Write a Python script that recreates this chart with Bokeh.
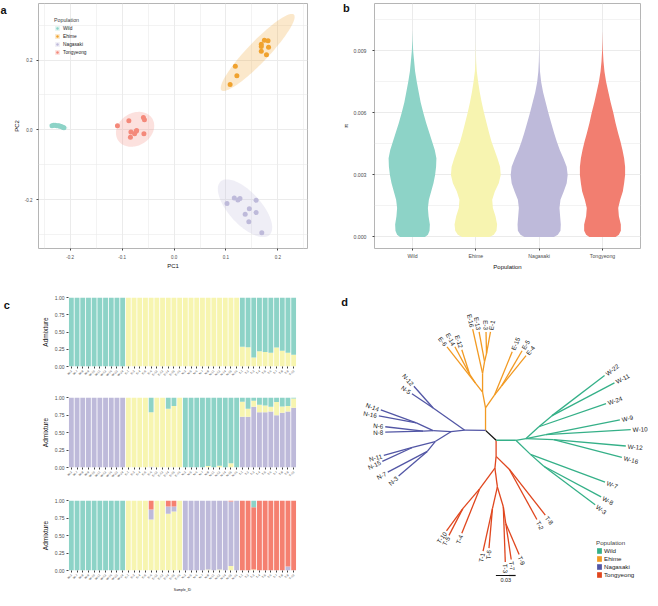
import math
import numpy as np
from bokeh.plotting import figure
from bokeh.models import (Range1d, FixedTicker, PrintfTickFormatter, Legend, LegendItem,
                          Label, ColumnDataSource)
from bokeh.layouts import row, column
from bokeh.embed import file_html
from bokeh.resources import INLINE
from bokeh.core.properties import value

FONT = "Liberation Sans"
POPS = ["Wild", "Ehime", "Nagasaki", "Tongyeong"]

# ---------------- panel a : PCA ----------------
PCA_COLORS = ["#8DD3C7", "#F0A22E", "#BEBADA", "#F4897A"]
WILD_PC1 = [-0.235, -0.232, -0.229, -0.226, -0.223, -0.221, -0.219, -0.216, -0.214, -0.212]
WILD_PC2 = [0.012, 0.013, 0.013, 0.012, 0.012, 0.011, 0.010, 0.009, 0.007, 0.006]
EHIME_PC1 = [0.174, 0.181, 0.168, 0.168, 0.182, 0.168, 0.178, 0.118, 0.121, 0.108]
EHIME_PC2 = [0.257, 0.255, 0.245, 0.239, 0.237, 0.225, 0.215, 0.182, 0.155, 0.130]
NAGASAKI_PC1 = [0.102, 0.116, 0.123, 0.127, 0.158, 0.145, 0.137, 0.158, 0.144, 0.169]
NAGASAKI_PC2 = [-0.211, -0.195, -0.201, -0.197, -0.202, -0.226, -0.242, -0.237, -0.263, -0.295]
TONGYEONG_PC1 = [-0.109, -0.087, -0.059, -0.057, -0.058, -0.083, -0.076, -0.073, -0.072, -0.084]
TONGYEONG_PC2 = [0.012, 0.026, 0.035, 0.029, -0.011, -0.006, -0.011, -0.004, -0.002, -0.021]
ELLIPSE_LEVEL = 0.95

# ---------------- panel b : violins ----------------
VIOLIN_COLORS = ["#8DD3C7", "#F7F4B0", "#BEBADA", "#F27E70"]
PI_GRID = [0.0000, 0.0001, 0.0003, 0.0006, 0.0010, 0.0014, 0.0018, 0.0022, 0.0026, 0.0030,
           0.0034, 0.0038, 0.0042, 0.0046, 0.0050, 0.0055, 0.0060, 0.0065, 0.0070, 0.0075,
           0.0080, 0.0085, 0.0090, 0.0095, 0.0100]
DENS_WILD = [38, 47, 52, 53, 49, 47, 50, 57, 64, 69, 72, 73, 68, 60, 52, 42, 33, 25, 19, 13, 8, 5, 2, 0.6, 0]
DENS_EHIME = [42, 55, 63, 65, 60, 52, 50, 58, 70, 76, 74, 66, 57, 48, 41, 33, 25, 18, 12, 7, 3, 1, 0.3, 0, 0]
DENS_NAGASAKI = [45, 57, 65, 66, 64, 62, 65, 75, 84, 87, 84, 74, 63, 54, 46, 37, 28, 20, 12, 6, 2.5, 1, 0.3, 0, 0]
DENS_TONGYEONG = [40, 50, 56, 56, 50, 48, 54, 62, 66, 69, 69, 66, 61, 55, 48, 40, 33, 25, 18, 11, 6, 3, 1.2, 0.4, 0]

# ---------------- panel c : admixture ----------------
SAMPLE_IDS = (["W-3", "W-7", "W-8", "W-9", "W-10", "W-11", "W-12", "W-16", "W-22", "W-24"]
              + ["E-1", "E-3", "E-4", "E-5", "E-6", "E-12", "E-13", "E-14", "E-15", "E-16"]
              + ["N-3", "N-5", "N-6", "N-7", "N-8", "N-11", "N-12", "N-14", "N-15", "N-16"]
              + ["T-1", "T-2", "T-3", "T-4", "T-5", "T-6", "T-7", "T-8", "T-9", "T-10"])
TEAL, YELLOW, LAVENDER, RED = "#8DD3C7", "#F7F5B0", "#BEBADA", "#F58070"
# K = 2  (bottom -> top : yellow, teal)
K2_YELLOW = [0] * 10 + [1] * 20 + [0.286, 0.28, 0.13, 0.22, 0.21, 0.20, 0.276, 0.23, 0.20, 0.17]
# K = 3  (bottom -> top : lavender, yellow, teal)
K3_LAVENDER = [1] * 10 + [0, 0, 0, 0, 0.01, 0, 0, 0, 0, 0] + [0] * 10 + \
              [0.726, 0.726, 0.868, 0.788, 0.79, 0.80, 0.745, 0.783, 0.80, 0.854]
K3_YELLOW = [0] * 10 + [1, 1, 1, 1, 0.78, 1, 1, 0.84, 0.88, 1] + \
            [0, 0, 0, 0, 0.02, 0, 0.025, 0, 0.06, 0] + \
            [0.213, 0.114, 0.085, 0.108, 0.097, 0.068, 0.189, 0.09, 0.077, 0.132]
# K = 4  (bottom -> top : yellow, lavender, red, teal)
K4_YELLOW = [0] * 10 + [1, 1, 1, 1, 0.73, 1, 1, 0.81, 0.844, 1] + \
            [0, 0, 0, 0, 0.015, 0, 0.015, 0, 0.066, 0] + [0, 0, 0.015, 0, 0, 0, 0, 0, 0, 0]
K4_LAVENDER = [0] * 10 + [0, 0, 0, 0, 0.143, 0, 0, 0.105, 0.071, 0] + \
              [1, 1, 1, 1, 0.985, 1, 0.985, 1, 0.919, 1] + [0, 0, 0, 0, 0, 0, 0, 0, 0.057, 0]
K4_RED = [0] * 10 + [0, 0, 0, 0, 0.127, 0, 0, 0.085, 0.085, 0] + \
         [0, 0, 0, 0, 0, 0, 0, 0, 0.015, 0] + [1, 1, 0.89, 1, 1, 1, 1, 1, 0.943, 1]

# ---------------- panel d : NJ tree (layout positions) ----------------
TREE_COLORS = {"root": "#111111", "Wild": "#35B088", "Ehime": "#F29A22",
               "Nagasaki": "#5256A5", "Tongyeong": "#E0461E"}
ROOT_NODE = ["R0", "R1"]
ROOT_PARENT = [None, "R0"]
ROOT_X = [491, 501.7]
ROOT_Y = [435.7, 445.7]
EHIME_NODE = ["EA", "EB", "EC", "EC2", "E-6", "E-14", "E-12", "ED", "E-16", "ED2", "E-13",
              "ED3", "E-3", "E-1", "ER", "E-15", "ER2", "E-5", "E-4"]
EHIME_PARENT = ["R0", "EA", "EB", "EC", "EC", "EC2", "EC2", "EB", "ED", "ED", "ED2", "ED2",
                "ED3", "ED3", "EA", "ER", "ER", "ER2", "ER2"]
EHIME_X = [491, 488, 481, 475, 452, 460, 467, 488, 478, 490, 484.5, 492, 491.5, 496, 500,
           518, 507, 528, 532]
EHIME_Y = [413, 397, 388, 379, 351, 351, 354, 378, 333, 366, 336, 358, 336, 336, 400, 356,
           391, 355, 360]
NAGA_NODE = ["NA", "NC", "N-12", "N-5", "NB", "NE", "ND", "N-14", "N-16", "NF", "N-6", "N-8",
             "NG", "NH", "N-11", "N-15", "NI", "N-7", "N-3"]
NAGA_PARENT = ["R0", "NA", "NC", "NC", "NA", "NB", "NE", "ND", "ND", "NE", "NF", "NF", "NB",
               "NG", "NH", "NH", "NG", "NI", "NI"]
NAGA_X = [470, 438, 418.5, 416.5, 456, 438, 421, 385, 383, 428, 389.5, 389.5, 440, 417, 388,
          386.5, 432, 392, 403]
NAGA_Y = [435.5, 413, 391, 398.5, 437, 436, 428, 415, 421, 436.5, 432, 437.5, 447, 453, 461,
          467, 457, 478, 482]
TONG_NODE = ["TA", "TR", "T-8", "T-2", "TB", "TC", "TD", "T-10", "T-5", "T-4", "TE", "TF",
             "T-1", "T-6", "TG", "T-3", "TH", "T-7", "T-9"]
TONG_PARENT = ["R1", "TA", "TR", "TR", "TA", "TB", "TC", "TD", "TD", "TC", "TB", "TE", "TF",
               "TF", "TE", "TG", "TG", "TH", "TH"]
TONG_X = [501.7, 515, 551.5, 543, 500.5, 485, 468, 451.5, 454, 467, 503, 498, 488.5, 494.5,
          509, 511, 511.5, 517, 525]
TONG_Y = [462, 475, 521.5, 526, 474, 495, 515, 537.5, 542, 540, 493, 515, 558, 555, 513, 569,
          530, 566.5, 561.5]
WILD_NODE = ["WA", "WB", "WC", "WD", "W-22", "W-11", "W-24", "WE", "W-9", "W-10", "WF",
             "W-12", "W-16", "WG", "W-7", "WH", "W-8", "W-3"]
WILD_PARENT = ["R1", "WA", "WB", "WC", "WD", "WD", "WC", "WB", "WE", "WE", "WB", "WF", "WF",
               "WA", "WG", "WG", "WH", "WH"]
WILD_X = [521.7, 532, 545, 558, 611.5, 621.5, 613, 552, 627, 638, 560, 633, 629, 536.5, 612,
          550, 608, 602]
WILD_Y = [445.7, 444, 432, 421, 380, 387.5, 408.5, 440, 425, 435, 445, 451.5, 463, 460, 488,
          472, 503, 511]
LAYOUT_UNITS_PER_SUB = 666.7   # layout units per substitution/site
SCALE_BAR = 0.03


def style_axes(p, tick_size, label_size):
    for ax in p.axis:
        ax.major_label_text_font = FONT
        ax.major_label_text_font_size = tick_size
        ax.major_label_text_color = "#4D4D4D"
        ax.axis_label_text_font = FONT
        ax.axis_label_text_font_size = label_size
        ax.axis_label_text_font_style = "normal"
        ax.axis_label_text_color = "#111111"
        ax.axis_line_color = None
        ax.major_tick_line_color = "#444444"
        ax.major_tick_in = 0
        ax.major_tick_out = 2
        ax.minor_tick_line_color = None
        ax.major_label_standoff = 2
        ax.axis_label_standoff = 2


def panel_label(p, x, y, text):
    # placed in the left side panel so that it is not clipped to the plot frame
    p.add_layout(Label(x=x, y=y, text=text, text_font=FONT, text_font_size="11px",
                       text_font_style="bold", text_baseline="alphabetic", text_color="#111111"),
                 "left")


def cov_trob(x, nu=5, maxit=25, tol=0.01):
    """Robust multivariate-t location/scatter (as MASS::cov.trob, used by stat_ellipse)."""
    n, p = x.shape
    wt = np.ones(n)
    loc = x.mean(axis=0)
    w = np.sqrt(wt)
    X = x - loc
    for _ in range(maxit):
        w0 = w
        X = x - loc
        A = np.sqrt(w / w.sum())[:, None] * X
        _, d, vt = np.linalg.svd(A, full_matrices=False)
        d = np.maximum(d, 1e-12)
        wX = X @ vt.T @ np.diag(1.0 / d)
        Q = (wX ** 2).sum(axis=1)
        w = (wt * (nu + p)) / (nu + Q)
        loc = (w[:, None] * x).sum(axis=0) / w.sum()
        if np.all(np.abs(w - w0) < tol):
            break
    sw = np.sqrt(w)[:, None] * X
    cov = sw.T @ sw / wt.sum()
    return loc, cov


def ellipse(xs, ys, level, n=120):
    x = np.column_stack([np.asarray(xs, float), np.asarray(ys, float)])
    m = len(x)
    d2 = m - 1
    f = d2 / 2.0 * ((1 - level) ** (-2.0 / d2) - 1)   # qf(level, 2, d2)
    r = math.sqrt(2 * f)
    center, cov = cov_trob(x)
    L = np.linalg.cholesky(cov + np.eye(2) * 1e-12)
    t = np.linspace(0, 2 * np.pi, n)
    circ = np.column_stack([np.cos(t), np.sin(t)])
    pts = center + r * (circ @ L.T)
    return pts[:, 0], pts[:, 1]


# ================= panel a =================
fa = figure(width=325, height=292, x_range=Range1d(-0.261, 0.257), y_range=Range1d(-0.340, 0.362),
            output_backend="svg", toolbar_location=None,
            min_border_left=38, min_border_right=18, min_border_top=2, min_border_bottom=42)
fa.xaxis.ticker = FixedTicker(ticks=[-0.2, -0.1, 0, 0.1, 0.2],
                              minor_ticks=[-0.25, -0.15, -0.05, 0.05, 0.15, 0.25])
fa.yaxis.ticker = FixedTicker(ticks=[-0.2, 0, 0.2], minor_ticks=[-0.3, -0.1, 0.1, 0.3])
fa.xaxis.formatter = PrintfTickFormatter(format="%.1f")
fa.yaxis.formatter = PrintfTickFormatter(format="%.1f")
fa.xaxis.axis_label = "PC1"
fa.yaxis.axis_label = "PC2"
style_axes(fa, "4.5px", "6px")
fa.xaxis.axis_label_standoff = 1
for g in (fa.xgrid, fa.ygrid):
    g.grid_line_color = "#EBEBEB"
    g.grid_line_width = 1
    g.minor_grid_line_color = "#EBEBEB"
    g.minor_grid_line_width = 0.6
fa.outline_line_color = "#B5B5B5"
fa.outline_line_width = 1

items = []
for pop, col, xs, ys in zip(POPS, PCA_COLORS,
                            [WILD_PC1, EHIME_PC1, NAGASAKI_PC1, TONGYEONG_PC1],
                            [WILD_PC2, EHIME_PC2, NAGASAKI_PC2, TONGYEONG_PC2]):
    ex, ey = ellipse(xs, ys, ELLIPSE_LEVEL)
    r1 = fa.patch(ex, ey, fill_color=col, fill_alpha=0.25, line_color=None)
    r2 = fa.scatter(xs, ys, size=5, fill_color=col, line_color=None)
    items.append(LegendItem(label=pop, renderers=[r1, r2]))
lega = Legend(items=items, title="Population", location=(16, 193), padding=2, margin=0,
              spacing=2, glyph_width=6, glyph_height=6, label_height=6, label_standoff=3,
              label_text_font=FONT, label_text_font_size="4.8px", label_text_color="#222222",
              title_text_font=FONT, title_text_font_size="5.3px", title_text_font_style="normal",
              title_standoff=2, background_fill_alpha=0, border_line_color=None)
fa.add_layout(lega)
panel_label(fa, -0.334, 0.342, "a")

# ================= panel b =================
fb = figure(width=325, height=292, x_range=Range1d(0.4, 4.6), y_range=Range1d(-0.00056, 0.01129),
            output_backend="svg", toolbar_location=None,
            min_border_left=49, min_border_right=10, min_border_top=3, min_border_bottom=44)
fb.xaxis.ticker = FixedTicker(ticks=[1, 2, 3, 4])
fb.xaxis.major_label_overrides = {1: "Wild", 2: "Ehime", 3: "Nagasaki", 4: "Tongyeong"}
fb.yaxis.ticker = FixedTicker(ticks=[0, 0.003, 0.006, 0.009],
                              minor_ticks=[0.0015, 0.0045, 0.0075, 0.0105])
fb.yaxis.formatter = PrintfTickFormatter(format="%.3f")
fb.xaxis.axis_label = "Population"
fb.yaxis.axis_label = "π"
style_axes(fb, "5.2px", "6px")
fb.yaxis.major_label_standoff = 4
for g in (fb.xgrid, fb.ygrid):
    g.grid_line_color = "#EBEBEB"
    g.grid_line_width = 1
    g.minor_grid_line_color = "#EBEBEB"
    g.minor_grid_line_width = 0.6
fb.outline_line_color = "#B5B5B5"
dens_all = [DENS_WILD, DENS_EHIME, DENS_NAGASAKI, DENS_TONGYEONG]
vscale = 0.45 / max(max(d) for d in dens_all)
grid = np.array(PI_GRID)
for i, (dens, col) in enumerate(zip(dens_all, VIOLIN_COLORS)):
    hw = np.array(dens, float) * vscale
    xs = np.concatenate([(i + 1) - hw, ((i + 1) + hw)[::-1]])
    ys = np.concatenate([grid, grid[::-1]])
    fb.patch(xs, ys, fill_color=col, line_color=None)
panel_label(fb, -0.099, 0.01109, "b")


# ================= panel c =================
def admix_fig(height, top, bottom, layers, colors, xlabel):
    p = figure(width=325, height=height, x_range=Range1d(0.5, 40.5), y_range=Range1d(0, 1),
               output_backend="svg", toolbar_location=None,
               min_border_left=68, min_border_right=29, min_border_top=top, min_border_bottom=bottom)
    data = {"x": list(range(1, 41))}
    names = []
    for i, layer in enumerate(layers):
        data["k%d" % i] = layer
        names.append("k%d" % i)
    src = ColumnDataSource(data)
    p.vbar_stack(names, x="x", width=0.85, color=colors, line_color=None, source=src)
    p.xaxis.ticker = FixedTicker(ticks=list(range(1, 41)))
    p.xaxis.major_label_overrides = {i + 1: s for i, s in enumerate(SAMPLE_IDS)}
    p.xaxis.major_label_orientation = math.pi / 4
    p.yaxis.ticker = FixedTicker(ticks=[0, 0.25, 0.5, 0.75, 1.0])
    p.yaxis.formatter = PrintfTickFormatter(format="%.2f")
    p.yaxis.axis_label = "Admixture"
    style_axes(p, "5px", "6.5px")
    p.xaxis.major_label_text_font_size = "3px"
    p.xaxis.major_tick_out = 2
    p.yaxis.axis_label_standoff = 3
    if xlabel:
        p.xaxis.axis_label = xlabel
        p.xaxis.axis_label_text_font_size = "3.5px"
        p.xaxis.axis_label_standoff = 3
    p.grid.grid_line_color = None
    p.outline_line_color = None
    return p


k2_teal = [1 - a for a in K2_YELLOW]
fc1 = admix_fig(102, 5, 28, [K2_YELLOW, k2_teal], [YELLOW, TEAL], None)
k3_teal = [max(0.0, 1 - a - b) for a, b in zip(K3_LAVENDER, K3_YELLOW)]
fc2 = admix_fig(104, 3, 31, [K3_LAVENDER, K3_YELLOW, k3_teal], [LAVENDER, YELLOW, TEAL], None)
k4_teal = [max(0.0, 1 - a - b - c) for a, b, c in zip(K4_YELLOW, K4_LAVENDER, K4_RED)]
fc3 = admix_fig(100, 2, 28, [K4_YELLOW, K4_LAVENDER, K4_RED, k4_teal],
                [YELLOW, LAVENDER, RED, TEAL], "Sample_ID")
panel_label(fc1, -10.85, 0.891, "c")

# ================= panel d =================
fd = figure(width=325, height=306, x_range=Range1d(329, 658), y_range=Range1d(606, 296),
            output_backend="svg", toolbar_location=None,
            min_border_left=0, min_border_right=0, min_border_top=0, min_border_bottom=0)
fd.axis.visible = False
fd.grid.grid_line_color = None
fd.outline_line_color = None

pos = {}
parent = {}
clade = {}
for names, pars, xs, ys, cl in [(ROOT_NODE, ROOT_PARENT, ROOT_X, ROOT_Y, "root"),
                                 (EHIME_NODE, EHIME_PARENT, EHIME_X, EHIME_Y, "Ehime"),
                                 (NAGA_NODE, NAGA_PARENT, NAGA_X, NAGA_Y, "Nagasaki"),
                                 (TONG_NODE, TONG_PARENT, TONG_X, TONG_Y, "Tongyeong"),
                                 (WILD_NODE, WILD_PARENT, WILD_X, WILD_Y, "Wild")]:
    for n, pa, x, y in zip(names, pars, xs, ys):
        pos[n] = (x, y)
        parent[n] = pa
        clade[n] = cl

for cl in ["root", "Ehime", "Nagasaki", "Tongyeong", "Wild"]:
    segx, segy = [], []
    for n, pa in parent.items():
        if pa is None or clade[n] != cl:
            continue
        segx.append([pos[pa][0], pos[n][0]])
        segy.append([pos[pa][1], pos[n][1]])
    fd.multi_line(segx, segy, line_color=TREE_COLORS[cl], line_width=1.3)

lx, ly, lt, la, lal = [], [], [], [], []
for n, pa in parent.items():
    if "-" not in n:
        continue
    x0, y0 = pos[pa]
    x1, y1 = pos[n]
    dx, dy = x1 - x0, y1 - y0
    L = math.hypot(dx, dy)
    ux, uy = dx / L, dy / L
    ang = math.atan2(-dy, dx)
    if dx >= 0:
        lal.append("left")
        la.append(ang)
    else:
        lal.append("right")
        la.append(ang + math.pi)
    lx.append(x1 + 2.0 * ux)
    ly.append(y1 + 2.0 * uy)
    lt.append(n)
fd.text(x=lx, y=ly, text=lt, angle=la, text_align=lal, text_baseline="middle",
        text_font=value(FONT), text_font_size="6.3px", text_color="#1A1A1A")

# scale bar
sb_x0 = 501.5
sb_y = 582.7
fd.segment(x0=[sb_x0], y0=[sb_y], x1=[sb_x0 + SCALE_BAR * LAYOUT_UNITS_PER_SUB], y1=[sb_y],
           line_color="#111111", line_width=1.2)
fd.text(x=[sb_x0 + SCALE_BAR * LAYOUT_UNITS_PER_SUB / 2], y=[sb_y + 2.5], text=["%.2f" % SCALE_BAR],
        text_align="center", text_baseline="top", text_font=value(FONT), text_font_size="5.5px",
        text_color="#1A1A1A")

ditems = []
for pop in POPS:
    r = fd.quad(left=[0], right=[1], top=[1], bottom=[0], fill_color=TREE_COLORS[pop], line_color=None)
    ditems.append(LegendItem(label=pop, renderers=[r]))
legd = Legend(items=ditems, title="Population", location=(271, 20), padding=2, margin=0,
              spacing=1, glyph_width=6, glyph_height=7, label_height=7, label_standoff=2,
              label_text_font=FONT, label_text_font_size="6.2px", label_text_color="#1A1A1A",
              title_text_font=FONT, title_text_font_size="6.2px", title_text_font_style="normal",
              title_standoff=1, background_fill_alpha=0, border_line_color=None)
fd.add_layout(legd)
fd.add_layout(Label(x=345, y=306, text="d", text_font=FONT, text_font_size="11px",
                    text_font_style="bold", text_baseline="alphabetic", text_color="#111111"))

layout = column(row(fa, fb), row(column(fc1, fc2, fc3), fd))
open("out.html", "w").write(file_html(layout, INLINE))
